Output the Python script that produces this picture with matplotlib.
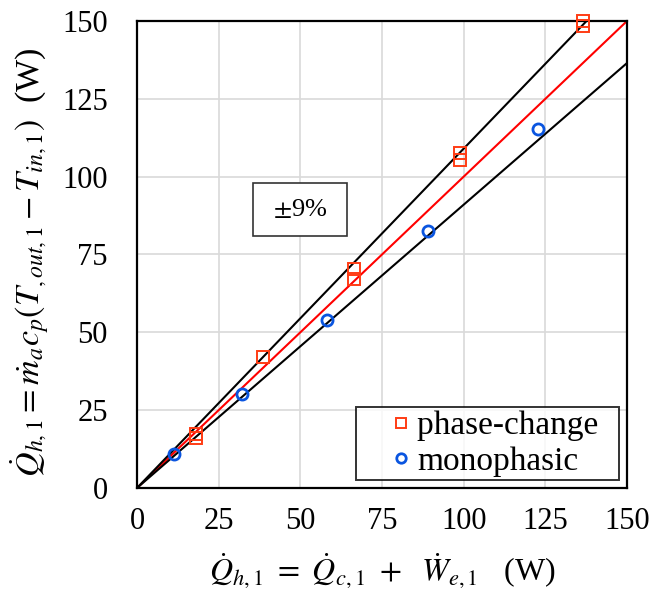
import numpy as np
import matplotlib
matplotlib.use('Agg')
import matplotlib.pyplot as plt
from matplotlib.patches import Rectangle

# Measured heat load against energy balance (W)
phase_x = [18.0, 18.0, 38.6, 66.5, 66.5, 99.0, 99.0, 136.5, 136.5]
phase_y = [17.5, 16.0, 42.0, 70.5, 67.0, 107.5, 105.5, 150.0, 148.5]
mono_x = [11.3, 32.0, 58.3, 89.0, 122.8]
mono_y = [10.8, 30.3, 53.8, 82.6, 115.2]

# Reference line and deviation band
band = 0.09
ticks = [0, 25, 50, 75, 100, 125, 150]

plt.rcParams['font.family'] = ['Liberation Serif', 'DejaVu Serif']
plt.rcParams['mathtext.fontset'] = 'stix'

fig = plt.figure(figsize=(6.64, 5.90), dpi=100)
ax = fig.add_axes([0.2063, 0.1729, 0.738, 0.7915])

xs = np.array([0, 150])
ax.plot(xs, xs, color='#ff0000', lw=1.5, zorder=2)
ax.plot(xs, xs * (1 + band), color='black', lw=1.5, zorder=2)
ax.plot(xs, xs * (1 - band), color='black', lw=1.5, zorder=2)

ax.plot(phase_x, phase_y, ls='none', marker='s', ms=8, mfc='none',
        mec='#ff3c14', mew=1.4, label='phase-change  ', zorder=3, clip_on=False)
ax.plot(mono_x, mono_y, ls='none', marker='o', ms=8, mfc='none',
        mec='#0a55e0', mew=2.0, label='monophasic', zorder=3, clip_on=False)

ax.set_xlim(0, 150)
ax.set_ylim(0, 150)
ax.set_xticks(ticks)
ax.set_yticks(ticks)
ax.grid(True, color='#d9d9d9', lw=1.2, zorder=0)
ax.set_axisbelow(True)
for sp in ax.spines.values():
    sp.set_linewidth(1.6)
ax.tick_params(length=0, labelsize=22)
ax.tick_params(axis='x', pad=14)
ax.tick_params(axis='y', pad=21)

ax.set_xlabel(r'$\dot{Q}_{h,1}\ =\ \dot{Q}_{c,1}\ +\ \ \dot{W}_{e,1}$   (W)', fontsize=23)
ax.xaxis.set_label_coords(0.5, -0.135)
ax.set_ylabel(r'$\dot{Q}_{h,1} = \dot{m}_a c_p\left(T_{,out,1} - T_{in,1}\right)$  (W)',
              fontsize=24.5)
ax.yaxis.set_label_coords(-0.175, 0.484)

# Band annotation box
ax.add_patch(Rectangle((35.5, 81.0), 28.8, 17.0, fc='white', ec='#333333',
                       lw=1.2, zorder=4))
ax.text(49.9, 89.5, r'$\pm$9%', fontsize=19, ha='center', va='center', zorder=5)

leg = ax.legend(loc='lower right', bbox_to_anchor=(0.983, 0.017), fontsize=24,
                frameon=True, fancybox=False, edgecolor='black',
                handlelength=2.48, handletextpad=-0.75, borderpad=0.1,
                labelspacing=0.15, markerscale=0.85, borderaxespad=0)
leg.get_frame().set_linewidth(1.4)

fig.savefig('out.png', dpi=100)
